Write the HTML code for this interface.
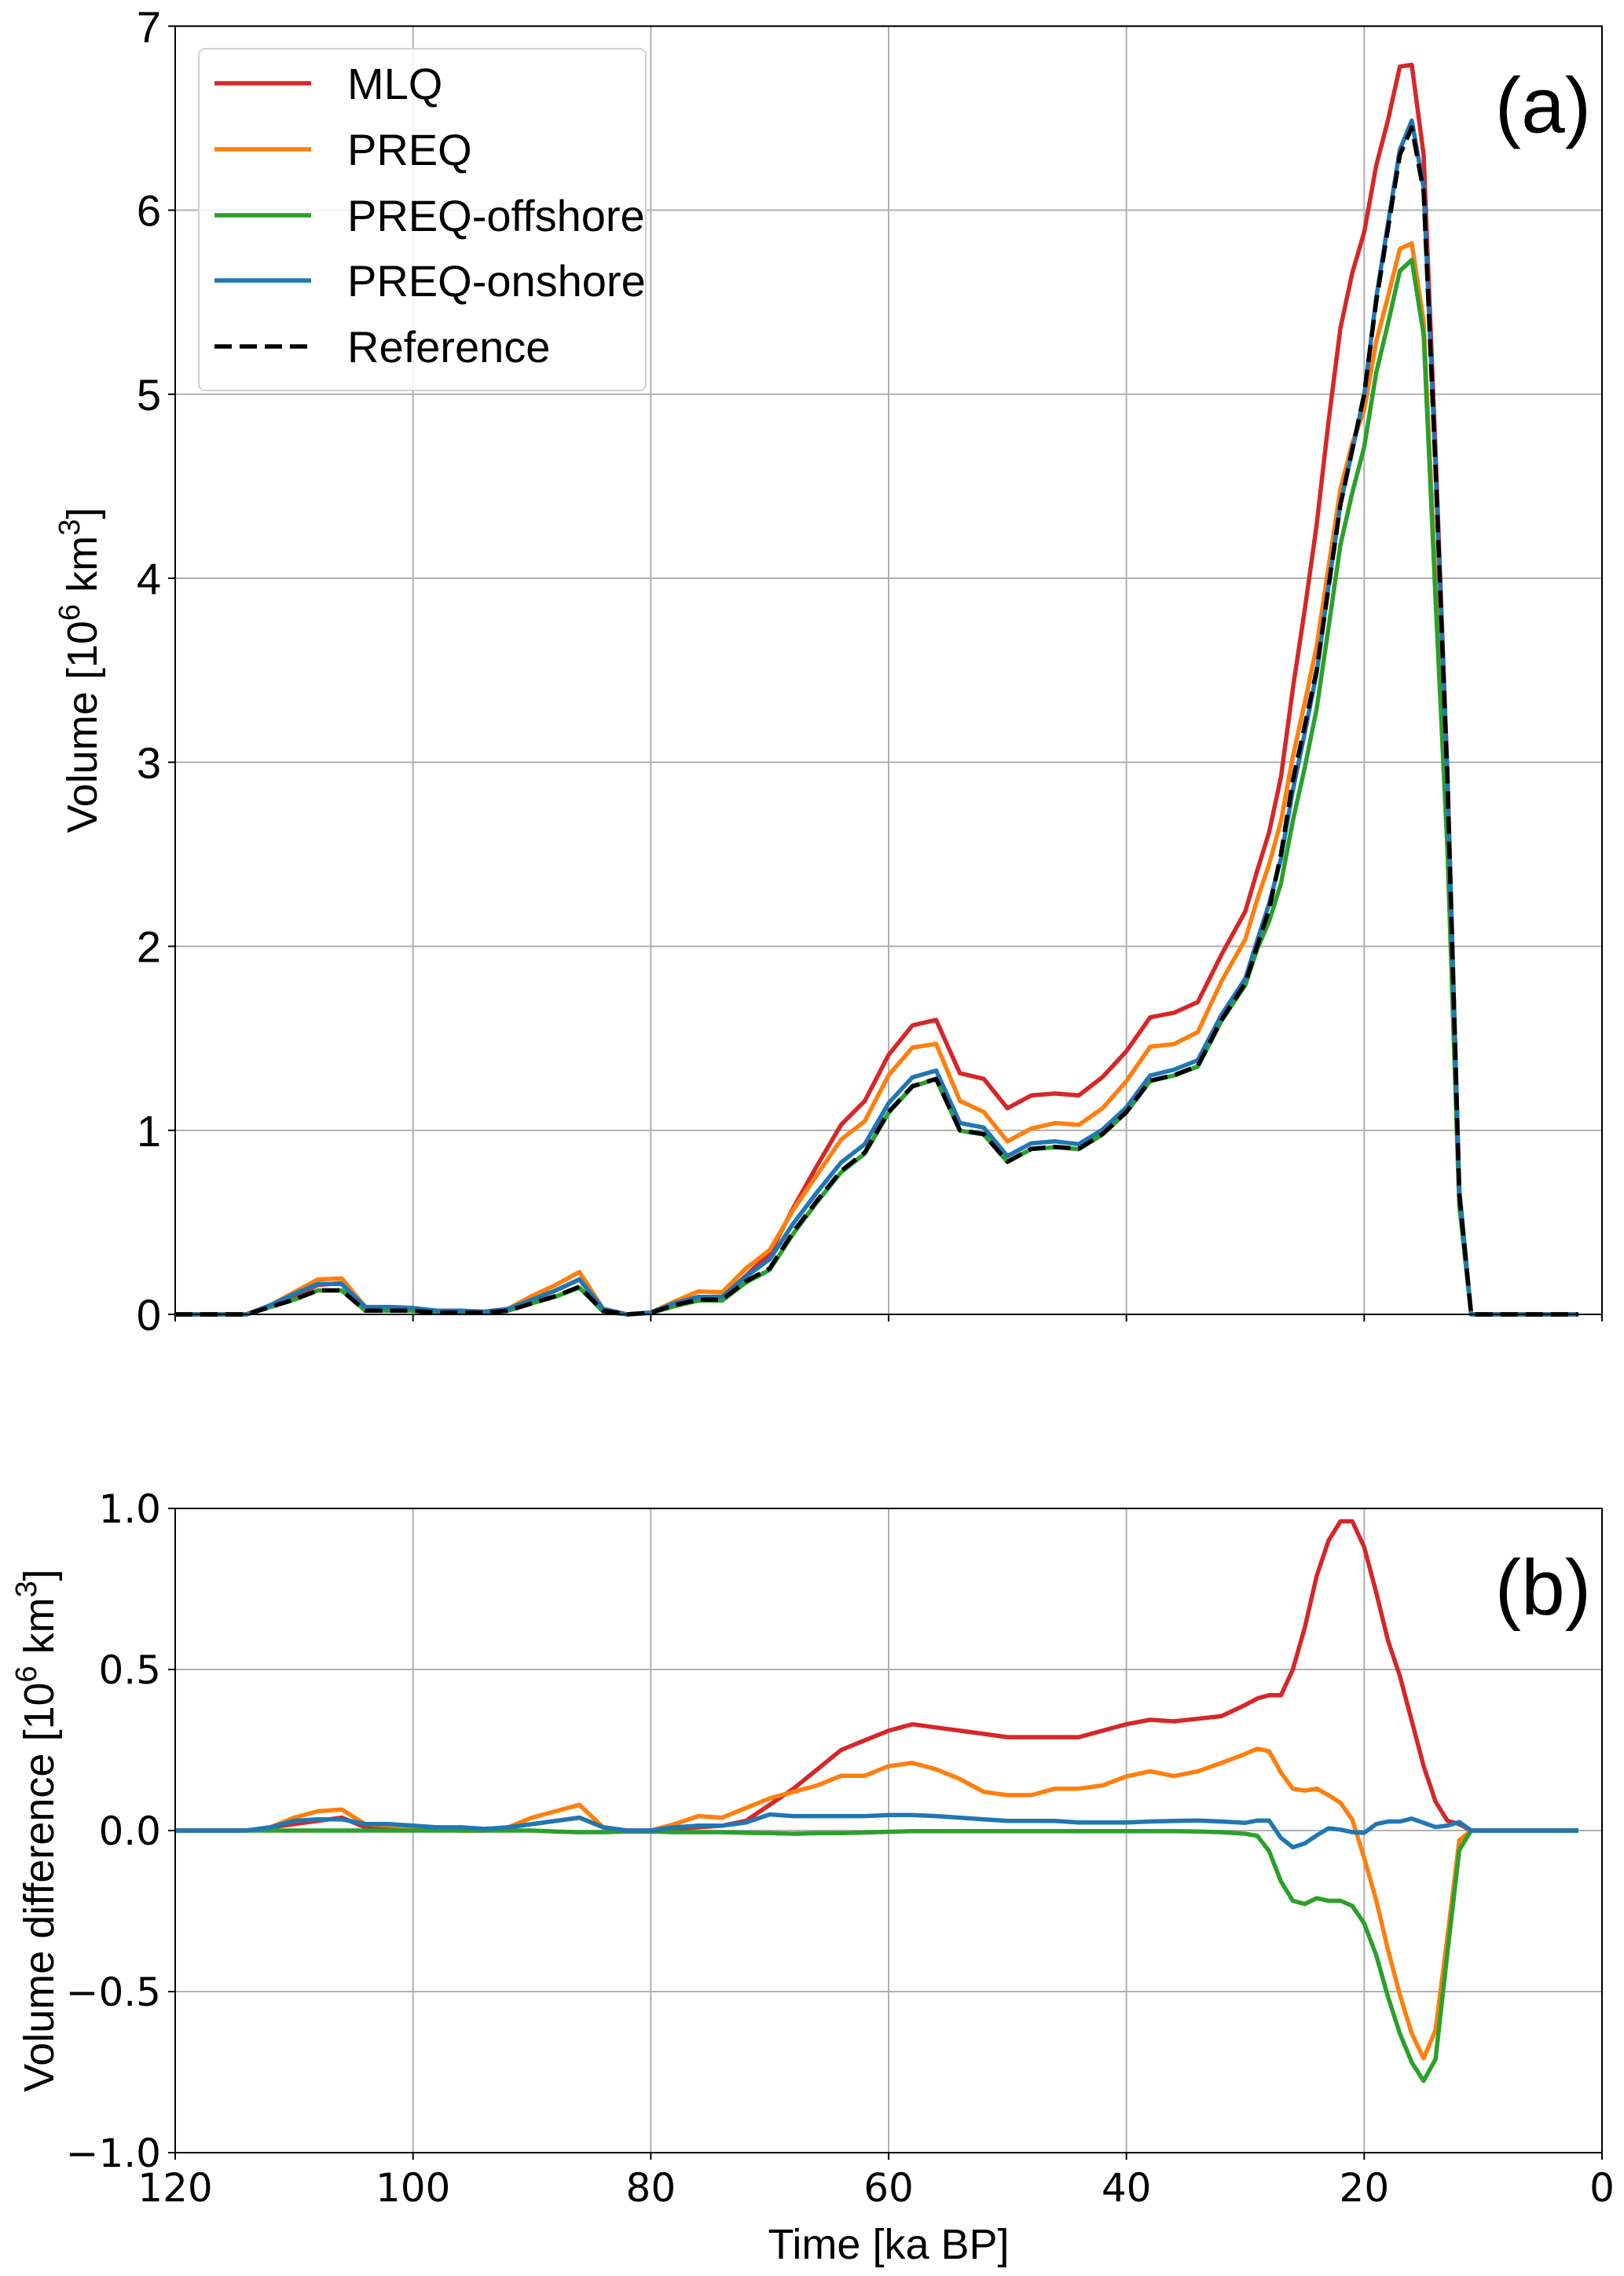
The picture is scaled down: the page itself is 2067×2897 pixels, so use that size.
<!DOCTYPE html>
<html><head><meta charset="utf-8">
<style>
html,body{margin:0;padding:0;background:#fff;}
svg{display:block;}
</style></head>
<body>
<svg id="chart" width="2067" height="2897" viewBox="0 0 2067 2897" xmlns="http://www.w3.org/2000/svg"></svg>
<script>
// ---- data ----
const times = [120,118,116,114,112,110,108,106,104,102,100,98,96,94,92,90,88,86,84,82,80,78,76,74,72,70,68,66,64,62,60,58,56,54,52,50,48,46,44,42,40,38,36,34,32,30,29,28,27,26,25,24,23,22,21,20,19,18,17,16,15,14,13,12,11,10,8,6,4,2];
const seriesNames = ["MLQ","PREQ","PREQ-offshore","PREQ-onshore","Reference"];
const volMLQ = [0,0,0,0,.05,.10,.16,.17,.03,.03,.03,.02,.01,.01,.03,.08,.13,.19,.03,0,.01,.055,.09,.095,.21,.33,.58,.81,1.03,1.16,1.41,1.57,1.60,1.31,1.28,1.12,1.19,1.20,1.19,1.29,1.43,1.614,1.639,1.697,1.955,2.19,2.41,2.62,2.92,3.40,3.83,4.29,4.85,5.36,5.66,5.88,6.24,6.49,6.78,6.79,6.30,4.69,2.93,.67,0,0,0,0,0,0];
const volPREQ = [0,0,0,0,.05,.12,.19,.195,.04,.035,.03,.015,.01,.01,.03,.10,.16,.23,.03,0,.01,.07,.125,.12,.25,.35,.57,.76,.95,1.05,1.30,1.45,1.47,1.16,1.10,.94,1.01,1.04,1.03,1.12,1.268,1.454,1.469,1.534,1.81,2.038,2.254,2.446,2.68,3.03,3.324,3.63,4.06,4.486,4.734,4.915,5.285,5.53,5.79,5.82,5.393,3.98,2.57,.62,0,0,0,0,0,0];
const volOff = [0,0,0,0,.04,.08,.13,.13,.02,.02,.02,.01,.01,.01,.02,.06,.097,.145,.015,0,.007,.045,.075,.075,.173,.242,.44,.612,.772,.874,1.096,1.238,1.278,.998,.978,.828,.898,.908,.898,.978,1.098,1.268,1.298,1.347,1.595,1.79,1.984,2.136,2.342,2.682,2.972,3.29,3.732,4.182,4.466,4.712,5.114,5.384,5.67,5.73,5.323,3.89,2.522,.59,0,0,0,0,0,0];
const volOn = [0,0,0,0,.05,.11,.165,.165,.04,.04,.035,.02,.02,.015,.03,.08,.13,.19,.03,0,.01,.06,.095,.095,.205,.30,.495,.665,.825,.925,1.148,1.288,1.325,1.04,1.015,.86,.93,.94,.925,1.005,1.125,1.298,1.33,1.381,1.628,1.824,2.031,2.231,2.477,2.848,3.16,3.485,3.957,4.403,4.695,4.993,5.52,5.928,6.328,6.487,6.124,4.611,2.915,.676,0,0,0,0,0,0];
const volRef = [0,0,0,0,.04,.08,.13,.13,.02,.02,.02,.01,.01,.01,.02,.06,.10,.15,.02,0,.01,.05,.08,.08,.18,.25,.45,.62,.78,.88,1.10,1.24,1.28,1.00,.98,.83,.90,.91,.90,.98,1.10,1.27,1.30,1.35,1.60,1.80,2.0,2.2,2.5,2.9,3.2,3.5,3.95,4.4,4.7,5.0,5.5,5.9,6.3,6.45,6.1,4.6,2.9,.65,0,0,0,0,0,0];
const diffMLQ = [0,0,0,0,.01,.02,.03,.04,.01,.01,.01,.01,0,0,.01,.02,.03,.04,.01,0,0,.005,.01,.015,.03,.08,.13,.19,.25,.28,.31,.33,.32,.31,.30,.29,.29,.29,.29,.31,.33,.344,.339,.347,.355,.39,.41,.42,.42,.50,.63,.79,.90,.96,.96,.88,.74,.59,.48,.34,.20,.09,.03,.02,0,0,0,0,0,0];
const diffPREQ = [0,0,0,0,.01,.04,.06,.065,.02,.015,.01,.005,0,0,.01,.04,.06,.08,.01,0,0,.02,.045,.04,.07,.10,.12,.14,.17,.17,.20,.21,.19,.16,.12,.11,.11,.13,.13,.14,.168,.184,.169,.184,.21,.238,.254,.246,.18,.13,.124,.13,.11,.086,.034,-.085,-.215,-.37,-.51,-.63,-.707,-.62,-.33,-.03,0,0,0,0,0,0];
const diffOff = [0,0,0,0,0,0,0,0,0,0,0,0,0,0,0,0,-.003,-.005,-.005,-.003,-.003,-.005,-.005,-.005,-.007,-.008,-.01,-.008,-.008,-.006,-.004,-.002,-.002,-.002,-.002,-.002,-.002,-.002,-.002,-.002,-.002,-.002,-.002,-.003,-.005,-.01,-.016,-.064,-.158,-.218,-.228,-.21,-.218,-.218,-.234,-.288,-.386,-.516,-.63,-.72,-.777,-.71,-.378,-.06,0,0,0,0,0,0];
const diffOn = [0,0,0,0,.01,.03,.035,.035,.02,.02,.015,.01,.01,.005,.01,.02,.03,.04,.01,0,0,.01,.015,.015,.025,.05,.045,.045,.045,.045,.048,.048,.045,.04,.035,.03,.03,.03,.025,.025,.025,.028,.03,.031,.028,.024,.031,.031,-.023,-.052,-.04,-.015,.007,.003,-.005,-.007,.02,.028,.028,.037,.024,.011,.015,.026,0,0,0,0,0,0];
const xTicks = [120,100,80,60,40,20,0];
const yTicksA = [0,1,2,3,4,5,6,7];
const yTickLabelsA = ["0","1","2","3","4","5","6","7"];
const yTicksB = [-1.0,-0.5,0.0,0.5,1.0];
const yTickLabelsB = ["\u22121.0","\u22120.5","0.0","0.5","1.0"];

// ---- layout ----
const NS = "http://www.w3.org/2000/svg";
const svg = document.getElementById("chart");
const L = 223, R = 2039;
const A = {top:33.3, bot:1673, min:0, max:7};
const B = {top:1920, bot:2740, min:-1, max:1};
const colors = ["#d62728","#ff7f0e","#2ca02c","#1f77b4","#000000"];
function xS(t){ return L + (120 - t) / 120 * (R - L); }
function yA(v){ return A.bot - (v - A.min) / (A.max - A.min) * (A.bot - A.top); }
function yB(v){ return B.bot - (v - B.min) / (B.max - B.min) * (B.bot - B.top); }
function mk(tag, attrs, parent){
  const e = document.createElementNS(NS, tag);
  for (const k in attrs) e.setAttribute(k, attrs[k]);
  (parent || svg).appendChild(e);
  return e;
}
function path(xs, ys){ return xs.map((x,i)=>(i?"L":"M")+x.toFixed(1)+" "+ys[i].toFixed(1)).join(" "); }

function panel(P, yFn, yTicks, yLabels, name, tickFont, showX, series, tag){
  const g = mk("g", {});
  
  
  // grid
  xTicks.forEach(t=>{
    const l = mk("line",{x1:xS(t),x2:xS(t),y1:P.top,y2:P.bot,stroke:"#b0b0b0","stroke-width":2},g);
    
    
  });
  yTicks.forEach(v=>{
    const l = mk("line",{x1:L,x2:R,y1:yFn(v),y2:yFn(v),stroke:"#b0b0b0","stroke-width":2},g);
    
    
  });
  // series
  series.forEach((s,i)=>{
    const p = mk("path",{d:path(times.map(xS), s.vals.map(yFn)),fill:"none",stroke:colors[s.ci],"stroke-width":5.5,"stroke-linejoin":"round"},g);
    if (s.ci === 4) p.setAttribute("stroke-dasharray","22 10");
    
    
  });
  // frame
  const fr = mk("rect",{x:L,y:P.top,width:R-L,height:P.bot-P.top,fill:"none",stroke:"#000","stroke-width":2},g);
  
  
  // ticks
  xTicks.forEach(t=>{
    const l = mk("line",{x1:xS(t),x2:xS(t),y1:P.bot,y2:P.bot+9,stroke:"#000","stroke-width":2},g);
    
    
    if (showX){
      const tx = mk("text",{x:xS(t),y:P.bot+62,"text-anchor":"middle","font-family":"DejaVu Sans, sans-serif","font-size":50,fill:"#000"},g);
      tx.textContent = String(t);
      
      
    }
  });
  yTicks.forEach((v,i)=>{
    const l = mk("line",{x1:L-9,x2:L,y1:yFn(v),y2:yFn(v),stroke:"#000","stroke-width":2},g);
    
    
    const tx = mk("text",{x:L-18,y:yFn(v)+tickFont.dy,"text-anchor":"end","font-family":tickFont.family,"font-size":tickFont.size,fill:"#000"},g);
    tx.textContent = yLabels[i];
    
    
  });
  const pl = mk("text",{x:2025,y:P.top+135,"text-anchor":"end","font-family":"Liberation Sans, sans-serif","font-size":100,fill:"#000"},g);
  pl.textContent = tag;
  
  
}

panel(A, yA, yTicksA, yTickLabelsA, "panel-a-volume", {family:"Liberation Sans, sans-serif", size:56, dy:20}, false,
  [{vals:volMLQ,ci:0},{vals:volPREQ,ci:1},{vals:volOff,ci:2},{vals:volOn,ci:3},{vals:volRef,ci:4}], "(a)");
panel(B, yB, yTicksB, yTickLabelsB, "panel-b-difference", {family:"DejaVu Sans, sans-serif", size:50, dy:18}, true,
  [{vals:diffMLQ,ci:0},{vals:diffPREQ,ci:1},{vals:diffOff,ci:2},{vals:diffOn,ci:3}], "(b)");

// axis titles
function rotLabel(x, y, name, main){
  const t = mk("text",{x:x,y:y,"text-anchor":"middle","font-family":"Liberation Sans, sans-serif","font-size":54,fill:"#000",transform:"rotate(-90 "+x+" "+y+")"});
  
  
  t.innerHTML = main + ' [10<tspan dy="-22" font-size="38">6</tspan><tspan dy="22"> km</tspan><tspan dy="-22" font-size="38">3</tspan><tspan dy="22">]</tspan>';
}
rotLabel(123, 853, "y-axis-title-volume", "Volume");
rotLabel(68, 2330, "y-axis-title-difference", "Volume difference");
const xt = mk("text",{x:1131,y:2875,"text-anchor":"middle","font-family":"Liberation Sans, sans-serif","font-size":54,fill:"#000"});
xt.textContent = "Time [ka BP]";



// legend
const lg = mk("g",{});


const lb = mk("rect",{x:253,y:62,width:569,height:435,rx:8,fill:"#fff","fill-opacity":0.85,stroke:"#d0d0d0","stroke-width":2},lg);


const rowY = [106,190,274,357,441];
seriesNames.forEach((n,i)=>{
  const e = mk("g",{},lg);
  
  
  const ln = mk("line",{x1:273,x2:396,y1:rowY[i],y2:rowY[i],stroke:colors[i],"stroke-width":5.5},e);
  if (i===4) ln.setAttribute("stroke-dasharray","22 10");
  
  
  const tx = mk("text",{x:442,y:rowY[i]+20,"font-family":"Liberation Sans, sans-serif","font-size":56,fill:"#000"},e);
  tx.textContent = n;
  
  
});
</script>
</body></html>
